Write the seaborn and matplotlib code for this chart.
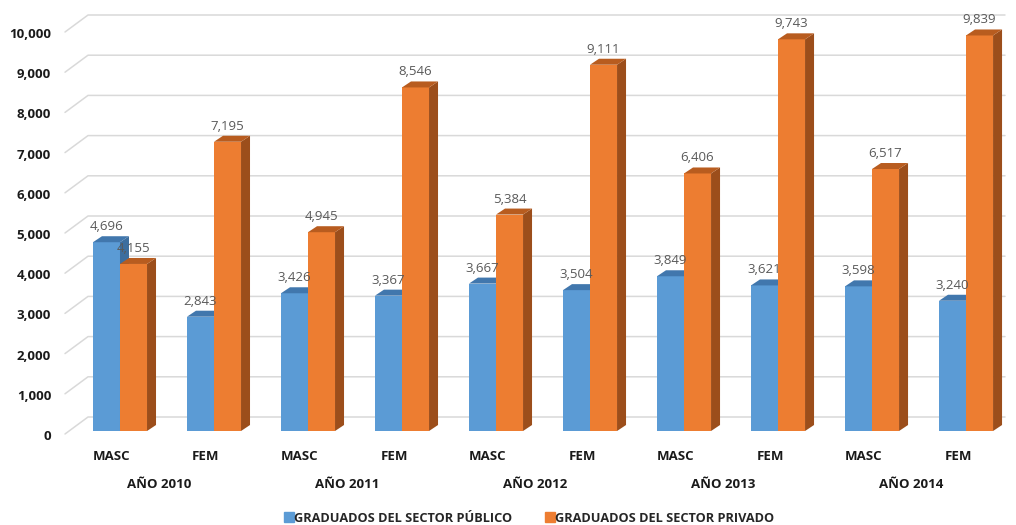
import matplotlib
matplotlib.use("Agg")
import matplotlib.pyplot as plt
from matplotlib.patches import Polygon
from matplotlib.lines import Line2D
from matplotlib.transforms import IdentityTransform, offset_copy
import seaborn as sns
import pandas as pd
import numpy as np

# ---- data ----
years = ["AÑO 2010", "AÑO 2011", "AÑO 2012", "AÑO 2013", "AÑO 2014"]
sexes = ["MASC", "FEM"]
series_names = ["GRADUADOS DEL SECTOR PÚBLICO", "GRADUADOS DEL SECTOR PRIVADO"]
publico = [4696, 2843, 3426, 3367, 3667, 3504, 3849, 3621, 3598, 3240]
privado = [4155, 7195, 4945, 8546, 5384, 9111, 6406, 9743, 6517, 9839]
y_ticks = [0, 1000, 2000, 3000, 4000, 5000, 6000, 7000, 8000, 9000, 10000]

colors_front = ["#5B9BD5", "#ED7D31"]
colors_top = ["#4177AD", "#B85C1F"]
colors_side = ["#3D6E9E", "#9C4E1B"]

groups = [f"{s} {y}" for y in years for s in sexes]
df = pd.DataFrame({
    "group": groups * 2,
    "sector": [series_names[0]] * len(groups) + [series_names[1]] * len(groups),
    "value": publico + privado,
})

sns.set_style("white")
plt.rcParams["font.family"] = ["Open Sans", "DejaVu Sans"]

W, H = 1016, 525
fig = plt.figure(figsize=(W / 100, H / 100), dpi=100)
ax_left, ax_right = 65, 982
ax_bottom, ax_top = 431, 29  # image pixel rows
ax = fig.add_axes([ax_left / W, (H - ax_bottom) / H, (ax_right - ax_left) / W, (ax_bottom - ax_top) / H])

sns.barplot(data=df, x="group", y="value", hue="sector", order=groups,
            hue_order=series_names, palette=colors_front, width=0.575, gap=0,
            saturation=1, legend=False, ax=ax, linewidth=0, zorder=2)

ax.set_xlim(-0.585, 9.17)
ax.set_ylim(0, 10000)
ax.set_xlabel("")
ax.set_ylabel("")
for s in ax.spines.values():
    s.set_visible(False)
ax.set_yticks(y_ticks)
ax.set_yticklabels([f"{v:,}" for v in y_ticks], fontsize=9.5, fontweight="bold", color="#1a1a1a")
ax.tick_params(axis="y", length=0, pad=10)
for lab in ax.get_yticklabels():
    lab.set_transform(offset_copy(lab.get_transform(), fig=fig, x=0, y=-4, units="dots"))
ax.set_xticks(range(len(groups)))
ax.set_xticklabels([g.split(" ")[0] for g in groups], fontsize=9.5, fontweight="bold", color="#1a1a1a")
ax.tick_params(axis="x", length=0, pad=14)
for lab in ax.get_xticklabels():
    lab.set_transform(offset_copy(lab.get_transform(), fig=fig, x=-8, y=0, units="dots"))

# ---- 3D-ish wall gridlines (display coords) ----
fig.canvas.draw()
dxw, dyw = 23, 17
bbox = ax.get_window_extent()
for t in y_ticks:
    _, yd = ax.transData.transform((0, t))
    yd -= 3
    xs = [bbox.x0, bbox.x0 + dxw, bbox.x1 + dxw]
    ys = [yd, yd + dyw, yd + dyw]
    ln = Line2D(xs, ys, transform=IdentityTransform(), color="#D9D9D9", lw=1.1, zorder=0)
    ln.set_clip_on(False)
    ax.add_artist(ln)

# ---- bar depth faces ----
dx, dy = 9, 6
bars = [p for p in ax.patches]
n = len(groups)
for i, p in enumerate(bars):
    h = i // n
    x0, y0 = p.get_x(), p.get_y()
    x1, y1 = x0 + p.get_width(), y0 + p.get_height()
    (px0, py0) = ax.transData.transform((x0, y0))
    (px1, py1) = ax.transData.transform((x1, y1))
    p.set_zorder(2 + h * 0.2)
    p.set_clip_on(False)
    side = Polygon([(px1, py0), (px1, py1), (px1 + dx, py1 + dy), (px1 + dx, py0 + dy)],
                   closed=True, transform=IdentityTransform(), facecolor=colors_side[h],
                   edgecolor="none", zorder=2.05 + h * 0.2, clip_on=False)
    top = Polygon([(px0, py1), (px1, py1), (px1 + dx, py1 + dy), (px0 + dx, py1 + dy)],
                  closed=True, transform=IdentityTransform(), facecolor=colors_top[h],
                  edgecolor="none", zorder=2.1 + h * 0.2, clip_on=False)
    ax.add_artist(side)
    ax.add_artist(top)
    ax.annotate(f"{int(round(p.get_height())):,}", xy=((x0 + x1) / 2, y1),
                xytext=(0, 12), textcoords="offset pixels", ha="center", va="baseline",
                fontsize=9.5, color="#595959", zorder=5, annotation_clip=False)

# ---- year labels ----
for k, yr in enumerate(years):
    xc = 2 * k + 0.5
    ax.text(xc, 0, yr, transform=offset_copy(ax.get_xaxis_transform(), fig=fig, x=-8, y=-54, units="dots"),
            ha="center", va="center", fontsize=9.5, fontweight="bold", color="#1a1a1a")

# ---- legend ----
handles = [Line2D([], [], marker="s", linestyle="none", markersize=6.5, markerfacecolor=c,
                  markeredgecolor=c) for c in colors_front]
fig.legend(handles, series_names, loc="center", bbox_to_anchor=(529 / W, 1 - 518 / H), ncol=2,
           frameon=False, prop={"size": 9.2, "weight": "bold"}, handletextpad=0.05,
           columnspacing=2.6, handlelength=0.7)

fig.savefig("out.png", dpi=100, facecolor="white")
